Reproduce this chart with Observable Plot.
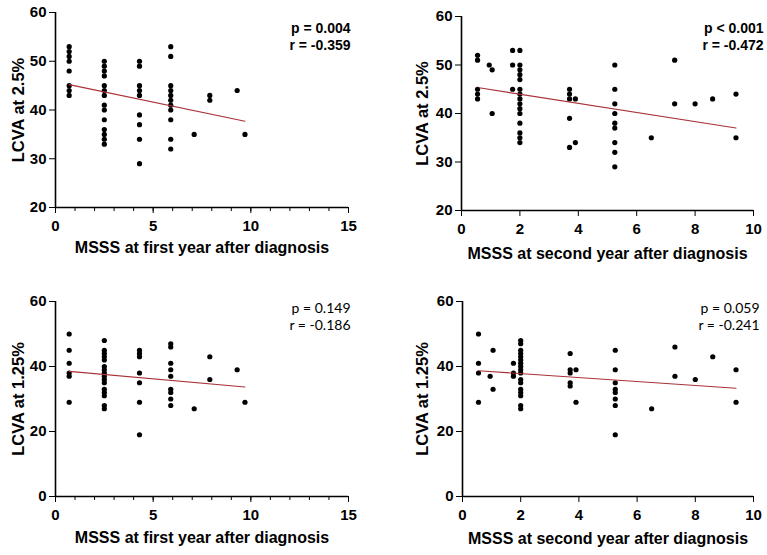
<!DOCTYPE html>
<html>
<head>
<meta charset="utf-8">
<script src="https://cdn.jsdelivr.net/npm/d3@7"></script>
<script src="https://cdn.jsdelivr.net/npm/@observablehq/plot@0.6"></script>
<style>
  html, body { margin: 0; padding: 0; background: #fff; }
  #wrap { position: relative; width: 767px; height: 555px; background: #fff; overflow: hidden; }
  .panel { position: absolute; }
</style>
</head>
<body>
<div id="wrap">
  <div class="panel" id="p1" style="left:0px;top:0px"></div>
  <div class="panel" id="p2" style="left:380px;top:0px"></div>
  <div class="panel" id="p3" style="left:0px;top:270px"></div>
  <div class="panel" id="p4" style="left:380px;top:270px"></div>
</div>
<script>
// ---------- DATA ----------
// MSSS values (x) at year 1 and year 2
const msssYear1 = [0.7, 2.5, 4.3, 5.9, 7.1, 7.9, 9.3, 9.7];
const msssYear2 = [0.55, 0.95, 1.05, 1.75, 2.0, 3.7, 3.9, 5.25, 6.5, 7.3, 8.0, 8.6, 9.4];

// LCVA at 2.5% vs MSSS year 1 (one list of y values per x column)
const lcva25Year1 = [
  [53, 52, 51, 50, 48, 45, 44, 43],
  [50, 49, 48, 47, 45, 44, 43, 41, 40, 38, 36, 35, 34, 33],
  [50, 49, 45, 44, 43, 39, 37, 34, 29],
  [53, 51, 45, 44, 43, 42, 41, 40, 38, 34, 32],
  [35],
  [43, 42],
  [44],
  [35]
];
// LCVA at 2.5% vs MSSS year 2
const lcva25Year2 = [
  [52, 51, 45, 44, 43],
  [50],
  [49, 40],
  [53, 50, 45],
  [53, 50, 49, 48, 47, 45, 44, 43, 42, 41, 40, 38, 36, 35, 34],
  [45, 44, 43, 39, 33],
  [43, 34],
  [50, 45, 42, 40, 38, 37, 34, 32, 29],
  [35],
  [51, 42],
  [42],
  [43],
  [44, 35]
];
// LCVA at 1.25% vs MSSS year 1
const lcva125Year1 = [
  [50, 45, 41, 38, 37, 29],
  [48, 45, 44, 43, 42, 40, 39, 38, 37, 36, 35, 33, 32, 31, 28, 27],
  [45, 44, 43, 38, 35, 29, 19],
  [47, 46, 41, 39, 37, 33, 32, 30, 28],
  [27],
  [43, 36],
  [39],
  [29]
];
// LCVA at 1.25% vs MSSS year 2
const lcva125Year2 = [
  [50, 41, 38, 29],
  [37],
  [45, 33],
  [41, 38, 37],
  [48, 47, 45, 44, 43, 42, 41, 40, 39, 38, 36, 35, 33, 32, 31, 28, 27],
  [44, 39, 38, 35, 34],
  [39, 29],
  [45, 39, 35, 33, 32, 30, 28, 19],
  [27],
  [46, 37],
  [36],
  [43],
  [39, 29]
];

// Regression fit lines: start/end x and y
const fit25Year1 = {x: [0.7, 9.7], y: [45.2, 37.7]};
const fit25Year2 = {x: [0.6, 9.4], y: [45.3, 37.0]};
const fit125Year1 = {x: [0.7, 9.7], y: [38.5, 33.7]};
const fit125Year2 = {x: [0.55, 9.4], y: [38.7, 33.3]};

// Statistics labels
const stats = [
  ["p = 0.004", "r = -0.359"],
  ["p < 0.001", "r = -0.472"],
  ["p = 0.149", "r = -0.186"],
  ["p = 0.059", "r = -0.241"]
];

// Axis labels and ticks
const xLabels = ["MSSS at first year after diagnosis", "MSSS at second year after diagnosis"];
const yLabels = ["LCVA at 2.5%", "LCVA at 1.25%"];
const xTicksYear1 = [0, 5, 10, 15];
const xMinorYear1 = d3.range(0, 16, 1);
const xTicksYear2 = [0, 2, 4, 6, 8, 10];
const yTicks25 = [20, 30, 40, 50, 60];
const yTicks125 = [0, 20, 40, 60];

// ---------- BUILD ----------
function flatten(xs, cols) {
  const out = [];
  xs.forEach((x, i) => cols[i].forEach(y => out.push({x, y})));
  return out;
}
function fitRows(f) { return f.x.map((x, i) => ({x, y: f.y[i]})); }

const FONT = "'Liberation Sans', Arial, Helvetica, sans-serif";

function panel(opts) {
  const {width, height, mt, mb, ml, mr, xDomain, yDomain, xTicks, xMinor, yTicks,
         points, fit, statText, statBold, xLabel, yLabel, xLabelDy, yLabelDx, statDx, statDy} = opts;
  const marks = [
    Plot.axisX({ticks: xTicks, tickSize: 6, tickPadding: 7, label: null, fontSize: 15, fontWeight: "bold"}),
    Plot.axisY({ticks: yTicks, tickSize: 6, tickPadding: 3, label: null, fontSize: 15, fontWeight: "bold"}),
    Plot.ruleY([yDomain[0]], {stroke: "black", strokeWidth: 1.6}),
    Plot.ruleX([xDomain[0]], {stroke: "black", strokeWidth: 1.6}),
    Plot.dot(points, {x: "x", y: "y", r: 2.6, fill: "black", stroke: "none"}),
    Plot.line(fitRows(fit), {x: "x", y: "y", stroke: "#a83238", strokeWidth: 1.1}),
    Plot.text([xLabel], {frameAnchor: "bottom", textAnchor: "middle", lineAnchor: "middle", dy: xLabelDy, fontSize: 16, fontWeight: "bold", fill: "black"}),
    Plot.text([yLabel], {frameAnchor: "left", textAnchor: "middle", lineAnchor: "middle", rotate: -90, dx: yLabelDx, fontSize: 16.5, fontWeight: "bold", fill: "black"}),
    Plot.text([statText.join("\n")], {
      frameAnchor: "top-right", textAnchor: "end", lineAnchor: "top", dx: statDx, dy: statDy,
      fontSize: 14, fontWeight: statBold ? "bold" : "normal",
      fontFamily: statBold ? FONT : "Lato, 'Open Sans', sans-serif", lineHeight: 1.2, fill: "black"
    })
  ];
  if (xMinor) {
    marks.unshift(Plot.axisX({ticks: xMinor, tickSize: 4, tickFormat: () => "", label: null}));
  }
  return Plot.plot({
    width, height,
    marginTop: mt, marginBottom: mb, marginLeft: ml, marginRight: mr,
    x: {domain: xDomain},
    y: {domain: yDomain},
    style: {fontFamily: FONT, color: "black", background: "white", overflow: "visible"},
    marks
  });
}

document.getElementById("p1").appendChild(panel({
  width: 380, height: 270, mt: 12, mb: 63, ml: 55, mr: 32,
  xDomain: [0, 15], yDomain: [20, 60], xTicks: xTicksYear1, xMinor: xMinorYear1, yTicks: yTicks25,
  points: flatten(msssYear1, lcva25Year1), fit: fit25Year1, statText: stats[0], statBold: true,
  xLabel: xLabels[0], yLabel: yLabels[0], xLabelDy: 40, yLabelDx: -37, statDx: 2, statDy: 9
}));
document.getElementById("p2").appendChild(panel({
  width: 387, height: 270, mt: 16, mb: 60, ml: 81, mr: 14,
  xDomain: [0, 10], yDomain: [20, 60], xTicks: xTicksYear2, xMinor: null, yTicks: yTicks25,
  points: flatten(msssYear2, lcva25Year2), fit: fit25Year2, statText: stats[1], statBold: true,
  xLabel: xLabels[1], yLabel: yLabels[0], xLabelDy: 43, yLabelDx: -39, statDx: 10, statDy: 5
}));
document.getElementById("p3").appendChild(panel({
  width: 380, height: 285, mt: 31, mb: 59, ml: 55, mr: 32,
  xDomain: [0, 15], yDomain: [0, 60], xTicks: xTicksYear1, xMinor: xMinorYear1, yTicks: yTicks125,
  points: flatten(msssYear1, lcva125Year1), fit: fit125Year1, statText: stats[2], statBold: false,
  xLabel: xLabels[0], yLabel: yLabels[1], xLabelDy: 41, yLabelDx: -37, statDx: 2, statDy: 0
}));
document.getElementById("p4").appendChild(panel({
  width: 387, height: 285, mt: 31, mb: 59, ml: 82, mr: 14,
  xDomain: [0, 10], yDomain: [0, 60], xTicks: xTicksYear2, xMinor: null, yTicks: yTicks125,
  points: flatten(msssYear2, lcva125Year2), fit: fit125Year2, statText: stats[3], statBold: false,
  xLabel: xLabels[1], yLabel: yLabels[1], xLabelDy: 42, yLabelDx: -40, statDx: 6, statDy: 0
}));
</script>
</body>
</html>
